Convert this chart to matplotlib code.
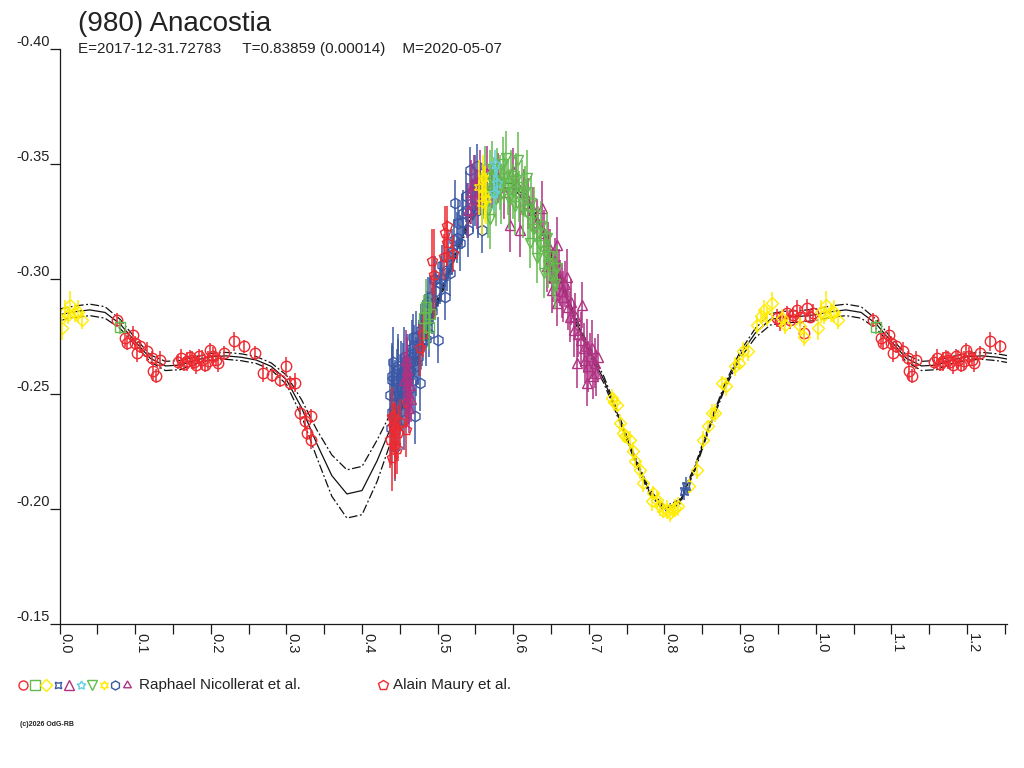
import numpy as np
import matplotlib
matplotlib.use('Agg')
import matplotlib.pyplot as plt
from matplotlib.lines import Line2D
from matplotlib.transforms import blended_transform_factory, ScaledTranslation

plt.rcParams['font.family'] = ['Liberation Sans', 'DejaVu Sans']

XMAX = 1.253
TXT = '#222222'

# fitted Fourier curve and half-width of the dash-dot envelope
fit_ph = [0.00, 0.02, 0.04, 0.06, 0.08, 0.10, 0.12, 0.14, 0.16, 0.18,
          0.20, 0.22, 0.24, 0.26, 0.28, 0.30, 0.32, 0.34, 0.36, 0.38,
          0.40, 0.42, 0.44, 0.46, 0.48, 0.50, 0.52, 0.54, 0.56, 0.58,
          0.60, 0.62, 0.64, 0.66, 0.68, 0.70, 0.72, 0.74, 0.76, 0.78,
          0.80, 0.82, 0.84, 0.86, 0.88, 0.90, 0.92, 0.94, 0.96, 0.98, 1.00]
fit_mag = [-0.2845, -0.2858, -0.2866, -0.2855, -0.2805, -0.2728, -0.2655, -0.2622, -0.2626, -0.2648,
           -0.2662, -0.2666, -0.2660, -0.2648, -0.2620, -0.2562, -0.2440, -0.2285, -0.2145, -0.2065,
           -0.2080, -0.2210, -0.2370, -0.2540, -0.2715, -0.2900, -0.3080, -0.3240, -0.3355, -0.3420,
           -0.3415, -0.3340, -0.3200, -0.3020, -0.2840, -0.2690, -0.2560, -0.2395, -0.2225, -0.2075,
           -0.2000, -0.2030, -0.2175, -0.2365, -0.2535, -0.2670, -0.2765, -0.2825, -0.2835, -0.2838, -0.2845]
fit_env = [0.0025, 0.0025, 0.0025, 0.0025, 0.002, 0.0015, 0.0015, 0.002, 0.002, 0.0015,
           0.0015, 0.0015, 0.0015, 0.0015, 0.0015, 0.002, 0.0035, 0.006, 0.009, 0.0105,
           0.0105, 0.009, 0.006, 0.0035, 0.002, 0.0015, 0.0015, 0.0015, 0.002, 0.002,
           0.002, 0.0015, 0.0015, 0.0015, 0.0015, 0.0015, 0.0015, 0.001, 0.001, 0.001,
           0.001, 0.001, 0.001, 0.001, 0.001, 0.0015, 0.002, 0.0025, 0.0025, 0.0025, 0.0025]

# red circles
red_ph = [0.0755, 0.0865, 0.0888, 0.0967, 0.0997, 0.102, 0.106, 0.115, 0.122, 0.124, 0.128, 0.133,
          0.156, 0.161, 0.165, 0.168, 0.172, 0.175, 0.178, 0.181, 0.185, 0.188, 0.192, 0.196, 0.199, 0.203, 0.207, 0.210, 0.217,
          0.230, 0.244, 0.258, 0.269, 0.281, 0.292, 0.2995, 0.305, 0.311, 0.318, 0.325, 0.327, 0.332, 0.333,
          0.9485, 0.953, 0.962, 0.966, 0.970, 0.975, 0.979, 0.984, 0.988, 0.993, 0.997]
red_mag = [-0.2823, -0.2743, -0.2722, -0.2758, -0.2722, -0.2678, -0.2707, -0.2685, -0.2657, -0.2598, -0.2577, -0.2649,
           -0.2640, -0.2655, -0.2630, -0.2642, -0.2660, -0.2649, -0.2638, -0.2627, -0.2664, -0.2650, -0.2627, -0.2645, -0.2693, -0.2664, -0.2650, -0.2635, -0.2678,
           -0.2729, -0.2707, -0.2678, -0.2591, -0.2584, -0.2562, -0.2620, -0.2548, -0.2550, -0.2417, -0.2381, -0.2330, -0.2301, -0.2403,
           -0.2830, -0.2816, -0.2852, -0.2823, -0.2845, -0.2867, -0.2837, -0.2765, -0.2874, -0.2837, -0.2852]
red_err = [0.003, 0.004, 0.003, 0.004, 0.003, 0.004, 0.003, 0.004, 0.003, 0.004, 0.003, 0.004,
           0.003, 0.004, 0.003, 0.004, 0.003, 0.004, 0.003, 0.004, 0.003, 0.004, 0.003, 0.004, 0.003, 0.004, 0.003, 0.004, 0.003,
           0.004, 0.003, 0.003, 0.004, 0.003, 0.003, 0.004, 0.003, 0.004, 0.003, 0.004, 0.003, 0.004, 0.003,
           0.004, 0.004, 0.003, 0.004, 0.003, 0.004, 0.004, 0.003, 0.004, 0.003, 0.004]

# green squares
gsq_ph = [0.080, 0.482, 0.485, 0.488, 0.490]
gsq_mag = [-0.2791, -0.2830, -0.2880, -0.2790, -0.2850]
gsq_err = [0.003, 0.010, 0.012, 0.010, 0.008]

# yellow diamonds
yel_ph = [0.003, 0.007, 0.0115, 0.0138, 0.0204, 0.0247, 0.029,
          0.730, 0.733, 0.737, 0.741, 0.745, 0.748, 0.754, 0.759, 0.761, 0.768, 0.772,
          0.783, 0.785, 0.790, 0.794, 0.798, 0.803, 0.807, 0.811, 0.814, 0.818, 0.832,
          0.843, 0.851, 0.858, 0.863, 0.867, 0.876, 0.882, 0.893, 0.898, 0.904,
          0.911, 0.922, 0.927, 0.931, 0.935, 0.942, 0.955, 0.960, 0.979, 0.984]
yel_mag = [-0.2787, -0.2859, -0.2845, -0.2888, -0.2852, -0.2859, -0.2823,
           -0.2483, -0.2465, -0.2453, -0.2374, -0.2330, -0.2316, -0.2301, -0.2250, -0.2207, -0.2171, -0.2113,
           -0.2033, -0.2070, -0.2040, -0.2011, -0.1990, -0.1997, -0.1983, -0.1995, -0.2004, -0.2011, -0.2098,
           -0.2171, -0.2301, -0.2359, -0.2417, -0.2417, -0.2548, -0.2533, -0.2620, -0.2635, -0.2685,
           -0.2685, -0.2801, -0.2840, -0.2867, -0.2837, -0.2896, -0.2830, -0.2800, -0.2794, -0.2750]
yel_err = [0.005, 0.005, 0.004, 0.006, 0.004, 0.005, 0.004,
           0.004, 0.004, 0.003, 0.004, 0.004, 0.003, 0.004, 0.004, 0.003, 0.004, 0.004,
           0.004, 0.003, 0.004, 0.004, 0.003, 0.004, 0.004, 0.003, 0.004, 0.004, 0.003,
           0.004, 0.004, 0.003, 0.004, 0.004, 0.003, 0.004, 0.004, 0.003, 0.004,
           0.004, 0.004, 0.003, 0.004, 0.004, 0.005, 0.004, 0.004, 0.004, 0.004]

# blue crossed squares
bx_ph = [0.826, 0.829]
bx_mag = [-0.2077, -0.2100]
bx_err = [0.004, 0.004]

# blue hexagons
hex_ph = [0.437, 0.438, 0.440, 0.441, 0.442, 0.443, 0.444, 0.446, 0.448, 0.450,
          0.452, 0.454, 0.456, 0.457, 0.460, 0.462, 0.4635, 0.466, 0.468, 0.470,
          0.472, 0.474, 0.477, 0.479, 0.481, 0.483, 0.486, 0.488, 0.490, 0.494,
          0.4953, 0.498, 0.501, 0.503, 0.506, 0.510, 0.512, 0.516, 0.519, 0.521,
          0.523, 0.527, 0.530, 0.534, 0.537, 0.540, 0.543, 0.545, 0.547, 0.550,
          0.552, 0.554, 0.556, 0.558,
          0.439, 0.4395, 0.445, 0.447, 0.449, 0.451, 0.453, 0.455, 0.458, 0.461,
          0.464, 0.467, 0.469, 0.471, 0.475, 0.478, 0.484, 0.487, 0.492, 0.497,
          0.505, 0.514, 0.525, 0.532, 0.539, 0.549]
hex_mag = [-0.2497, -0.2350, -0.2580, -0.2640, -0.2432, -0.2270, -0.2490, -0.2555, -0.2610, -0.2475,
           -0.2530, -0.2600, -0.2388, -0.2548, -0.2650, -0.2520, -0.2635, -0.2700, -0.2750, -0.2403,
           -0.2750, -0.2660, -0.2548, -0.2722, -0.2800, -0.2837, -0.2837, -0.2760, -0.2920, -0.2896,
           -0.2997, -0.2950, -0.2736, -0.2983, -0.3060, -0.2924, -0.3040, -0.3026, -0.3120, -0.3170,
           -0.3330, -0.3243, -0.3157, -0.3287, -0.3360, -0.3214, -0.3475, -0.3380, -0.3316, -0.3420,
           -0.3490, -0.3300, -0.3390, -0.3214,
           -0.2420, -0.2560, -0.2380, -0.2620, -0.2450, -0.2580, -0.2480, -0.2660, -0.2500, -0.2560,
           -0.2600, -0.2560, -0.2680, -0.2620, -0.2700, -0.2780, -0.2740, -0.2900, -0.2860, -0.3000,
           -0.3000, -0.3100, -0.3180, -0.3250, -0.3300, -0.3350]
hex_err = [0.015, 0.016, 0.014, 0.015, 0.018, 0.015, 0.016, 0.014, 0.013, 0.015,
           0.014, 0.012, 0.013, 0.012, 0.011, 0.013, 0.012, 0.012, 0.010, 0.012,
           0.011, 0.012, 0.012, 0.010, 0.011, 0.010, 0.011, 0.010, 0.010, 0.009,
           0.010, 0.009, 0.010, 0.009, 0.009, 0.010, 0.009, 0.010, 0.010, 0.009,
           0.010, 0.010, 0.012, 0.010, 0.011, 0.012, 0.010, 0.012, 0.011, 0.012,
           0.010, 0.012, 0.011, 0.010,
           0.017, 0.015, 0.016, 0.014, 0.016, 0.015, 0.014, 0.013, 0.015, 0.014,
           0.013, 0.014, 0.012, 0.013, 0.012, 0.011, 0.012, 0.011, 0.010, 0.010,
           0.010, 0.011, 0.011, 0.012, 0.012, 0.012]

# red pentagons (second observer)
pent_ph = [0.437, 0.440, 0.441, 0.444, 0.446, 0.450, 0.458, 0.460, 0.476, 0.481,
           0.492, 0.495, 0.508, 0.510, 0.512, 0.513, 0.520, 0.439, 0.443, 0.448]
pent_mag = [-0.2300, -0.2220, -0.2360, -0.2345, -0.2260, -0.2380, -0.2345, -0.2461, -0.2700, -0.2760,
            -0.3077, -0.3020, -0.3098, -0.3200, -0.3157, -0.3230, -0.3110, -0.2400, -0.2280, -0.2330]
pent_err = [0.012, 0.014, 0.010, 0.012, 0.011, 0.010, 0.012, 0.010, 0.012, 0.010,
            0.014, 0.020, 0.010, 0.012, 0.010, 0.009, 0.008, 0.013, 0.015, 0.012]

# purple triangles
tri_ph = [0.456, 0.459, 0.461, 0.463, 0.465, 0.458, 0.460, 0.462,
          0.540, 0.544, 0.548, 0.552, 0.556, 0.560, 0.565, 0.572, 0.580, 0.588,
          0.596, 0.600, 0.604, 0.609, 0.614, 0.620, 0.626, 0.632, 0.638,
          0.640, 0.644, 0.646, 0.648, 0.651, 0.653, 0.655, 0.658, 0.658, 0.660,
          0.662, 0.664, 0.666, 0.668, 0.671, 0.673, 0.675, 0.677, 0.680, 0.682,
          0.684, 0.686, 0.689, 0.691, 0.693, 0.695, 0.697, 0.697, 0.699, 0.702,
          0.704, 0.706, 0.708, 0.710, 0.712]
tri_mag = [-0.2562, -0.2606, -0.2504, -0.2540, -0.2480, -0.2650, -0.2580, -0.2440,
           -0.3300, -0.3380, -0.3420, -0.3350, -0.3440, -0.3390, -0.3460, -0.3410, -0.3440, -0.3380,
           -0.3236, -0.3470, -0.3420, -0.3214, -0.3380, -0.3330, -0.3300, -0.3250, -0.3309,
           -0.3200, -0.3055, -0.3150, -0.3100, -0.2953, -0.3011, -0.3080, -0.3149, -0.2896, -0.3020,
           -0.2983, -0.2950, -0.2924, -0.2980, -0.3011, -0.2880, -0.2837, -0.2900, -0.2780, -0.2840,
           -0.2635, -0.2760, -0.2736, -0.2888, -0.2700, -0.2650, -0.2707, -0.2548, -0.2620, -0.2664,
           -0.2700, -0.2577, -0.2635, -0.2591, -0.2660]
tri_err = [0.012, 0.014, 0.013, 0.012, 0.010, 0.013, 0.012, 0.011,
           0.012, 0.014, 0.012, 0.013, 0.012, 0.011, 0.012, 0.010, 0.011, 0.012,
           0.012, 0.010, 0.011, 0.012, 0.010, 0.011, 0.010, 0.010, 0.012,
           0.010, 0.011, 0.010, 0.012, 0.010, 0.011, 0.010, 0.012, 0.010, 0.011,
           0.010, 0.012, 0.011, 0.010, 0.012, 0.010, 0.011, 0.010, 0.012, 0.010,
           0.011, 0.010, 0.012, 0.010, 0.011, 0.010, 0.012, 0.010, 0.011, 0.010,
           0.012, 0.010, 0.011, 0.010, 0.010]

# green down triangles
gdn_ph = [0.560, 0.563, 0.566, 0.569, 0.569, 0.572, 0.575, 0.577, 0.579, 0.582,
          0.584, 0.586, 0.588, 0.591, 0.593, 0.595, 0.597, 0.600, 0.602, 0.604,
          0.606, 0.608, 0.611, 0.613, 0.615, 0.618, 0.620, 0.622, 0.624, 0.626,
          0.628, 0.631, 0.633, 0.635, 0.637, 0.640, 0.642, 0.644, 0.646, 0.649,
          0.652, 0.655, 0.658]
gdn_mag = [-0.3380, -0.3440, -0.3300, -0.3260, -0.3440, -0.3480, -0.3400, -0.3350, -0.3460, -0.3420,
           -0.3370, -0.3500, -0.3440, -0.3526, -0.3400, -0.3350, -0.3450, -0.3380, -0.3320, -0.3430,
           -0.3520, -0.3360, -0.3400, -0.3300, -0.3380, -0.3440, -0.3280, -0.3157, -0.3330, -0.3220,
           -0.3280, -0.3091, -0.3200, -0.3150, -0.3230, -0.3026, -0.3120, -0.3180, -0.3060, -0.3100,
           -0.3020, -0.2980, -0.3050]
gdn_err = [0.012, 0.014, 0.012, 0.013, 0.012, 0.012, 0.013, 0.012, 0.011, 0.012,
           0.013, 0.012, 0.011, 0.012, 0.012, 0.013, 0.011, 0.012, 0.013, 0.012,
           0.012, 0.011, 0.012, 0.012, 0.011, 0.012, 0.012, 0.011, 0.012, 0.011,
           0.012, 0.011, 0.012, 0.010, 0.011, 0.011, 0.010, 0.011, 0.010, 0.011,
           0.010, 0.011, 0.010]

# yellow stars
ystar_ph = [0.555, 0.558, 0.560, 0.562, 0.564]
ystar_mag = [-0.3400, -0.3330, -0.3440, -0.3370, -0.3350]
ystar_err = [0.012, 0.014, 0.010, 0.012, 0.011]

# cyan stars
cyan_ph = [0.574, 0.576, 0.579]
cyan_mag = [-0.3375, -0.3500, -0.3420]
cyan_err = [0.008, 0.006, 0.006]

RED = '#ee2a30'
GREEN = '#63bb4e'
YELLOW = '#ffec00'
BLUE = '#3b58a6'
PURPLE = '#b03282'
CYAN = '#62cfe0'

MK = {
    'circle': 'o', 'square': 's', 'diamond': 'D', 'xsq': (4, 1, 45),
    'tri': '^', 'star': (5, 1, 0), 'down': 'v', 'ystar': (6, 1, 0),
    'hex': 'h', 'rad': (3, 1, 0), 'pent': 'p',
}


def wrap(ph, mag, err, limit=XMAX - 1):
    ph = np.asarray(ph, float)
    mag = np.asarray(mag, float)
    err = np.asarray(err, float)
    m = ph < limit
    return (np.concatenate([ph, ph[m] + 1]), np.concatenate([mag, mag[m]]),
            np.concatenate([err, err[m]]))


fig = plt.figure(figsize=(10.24, 7.68), dpi=100)
ax = fig.add_axes([59.6 / 1024, 1 - 623.8 / 768, (1007 - 59.6) / 1024, (623.8 - 49.3) / 768])

# fit curve and envelope
fp, fm, fe = wrap(fit_ph[:-1], fit_mag[:-1], fit_env[:-1], limit=0.27)
order = np.argsort(fp)
fp, fm, fe = fp[order], fm[order], fe[order]
ax.plot(fp, fm, color='#111111', lw=0.9, zorder=1)
ax.plot(fp, fm - fe, color='#111111', lw=0.9, ls=(0, (7, 2, 1.5, 2)), zorder=1)
ax.plot(fp, fm + fe, color='#111111', lw=0.9, ls=(0, (7, 2, 1.5, 2)), zorder=1)

series = [
    (red_ph, red_mag, red_err, RED, 'circle', 7.5),
    (yel_ph, yel_mag, yel_err, YELLOW, 'diamond', 6.5),
    (hex_ph, hex_mag, hex_err, BLUE, 'hex', 7.5),
    (pent_ph, pent_mag, pent_err, RED, 'pent', 7.5),
    (tri_ph, tri_mag, tri_err, PURPLE, 'tri', 7.5),
    (gdn_ph, gdn_mag, gdn_err, GREEN, 'down', 7.5),
    (gsq_ph, gsq_mag, gsq_err, GREEN, 'square', 6.5),
    (ystar_ph, ystar_mag, ystar_err, YELLOW, 'ystar', 8),
    (cyan_ph, cyan_mag, cyan_err, CYAN, 'star', 8),
    (bx_ph, bx_mag, bx_err, BLUE, 'xsq', 8),
]
for ph, mag, err, col, mk, ms in series:
    p, m, e = wrap(ph, mag, err)
    ax.errorbar(p, m, yerr=e, fmt='none', ecolor=col, elinewidth=1.1, capsize=0, zorder=2)
    ax.plot(p, m, ls='none', marker=MK[mk], ms=ms, mfc='none', mec=col, mew=1.0, zorder=2)

ax.set_xlim(0, XMAX)
ax.set_ylim(-0.15, -0.40)
for s in ('top', 'right'):
    ax.spines[s].set_visible(False)
for s in ('left', 'bottom'):
    ax.spines[s].set_color('#1a1a1a')
    ax.spines[s].set_linewidth(0.9)

xt = [0.0, 0.1, 0.2, 0.3, 0.4, 0.5, 0.6, 0.7, 0.8, 0.9, 1.0, 1.1, 1.2]
ax.set_xticks(xt)
ax.set_xticks([0.05, 0.15, 0.25, 0.35, 0.45, 0.55, 0.65, 0.75, 0.85, 0.95, 1.05, 1.15, 1.25], minor=True)
ax.set_xticklabels([])
ax.tick_params(axis='x', which='both', direction='out', length=7, width=0.9, color='#1a1a1a')
trans = blended_transform_factory(ax.transData, ax.transAxes) + ScaledTranslation(-1 / 100, -9 / 100, fig.dpi_scale_trans)
for t in xt:
    ax.text(t, 0, f'{t:.1f}', transform=trans, rotation=-90, ha='left', va='top',
            fontsize=10.5, color=TXT)

yt = [-0.40, -0.35, -0.30, -0.25, -0.20, -0.15]
ax.set_yticks(yt)
ax.set_yticklabels([f'{v:.2f}' for v in yt])
ax.tick_params(axis='y', direction='out', length=7.5, width=0.9, color='#1a1a1a',
               pad=-0.3, labelsize=10.5, labelcolor=TXT)
for lbl in ax.get_yticklabels():
    lbl.set_va('bottom')

fig.text(78 / 1024, 1 - 31 / 768, '(980) Anacostia', fontsize=20, color=TXT, va='baseline')
fig.text(78 / 1024, 1 - 53 / 768, 'E=2017-12-31.72783     T=0.83859 (0.00014)    M=2020-05-07',
         fontsize=11, color=TXT, va='baseline')

# legend row
leg = [('circle', RED), ('square', GREEN), ('diamond', YELLOW), ('xsq', BLUE), ('tri', PURPLE),
       ('star', CYAN), ('down', GREEN), ('ystar', YELLOW), ('hex', BLUE), ('rad', PURPLE)]
for i, (mk, col) in enumerate(leg):
    x = (23.4 + i * 11.5) / 1024
    fig.add_artist(Line2D([x], [1 - 685 / 768], transform=fig.transFigure, ls='none',
                          marker=MK[mk], ms=6.5, mfc='none', mec=col, mew=1.0))
fig.text(139 / 1024, 1 - 685 / 768, 'Raphael Nicollerat et al.', fontsize=11, color=TXT, va='center')
fig.add_artist(Line2D([383.4 / 1024], [1 - 685 / 768], transform=fig.transFigure, ls='none',
                      marker='p', ms=7, mfc='none', mec=RED, mew=1.0))
fig.text(393 / 1024, 1 - 685 / 768, 'Alain Maury et al.', fontsize=11, color=TXT, va='center')
fig.text(20 / 1024, 1 - 724 / 768, '(c)2026 OdG-RB', fontsize=5, color=TXT, va='center', weight='bold')

fig.savefig('out.png', dpi=100)
